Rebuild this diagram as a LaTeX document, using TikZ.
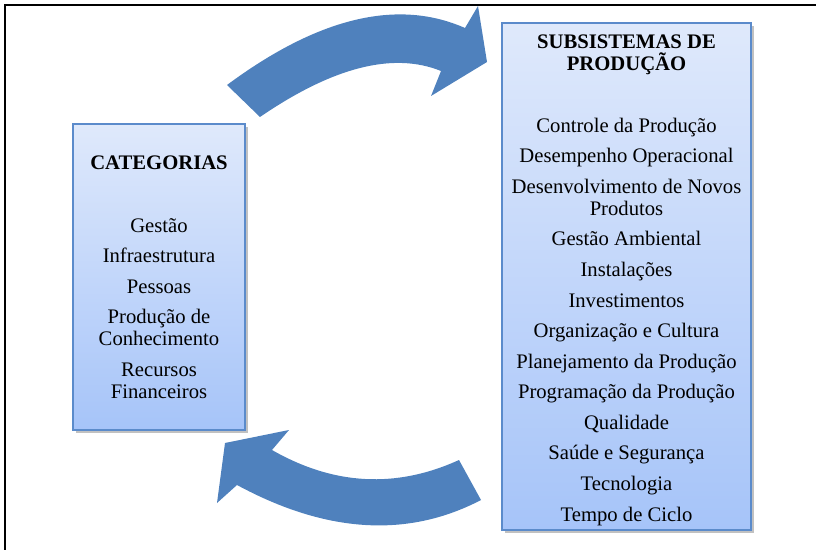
\documentclass[tikz,border=0pt]{standalone}
\usepackage{fontspec}
\setmainfont{Liberation Serif}
\usetikzlibrary{shadows}
\definecolor{arrowblue}{HTML}{4F81BD}
\definecolor{boxline}{HTML}{5B8BCB}
\definecolor{boxtop}{HTML}{DFE9FB}
\definecolor{boxbot}{HTML}{A6C4F9}

\begin{document}
\begin{tikzpicture}[x=0.025cm,y=-0.025cm,
  listbox/.style={draw=boxline,line width=1pt,inner sep=0pt,
    top color=boxtop,bottom color=boxbot,
    drop shadow={shadow xshift=2pt,shadow yshift=-2pt,opacity=0.35,fill=black!70}},
  boxtext/.style={align=center,inner sep=0pt,font=\fontsize{14.7pt}{15.65pt}\selectfont},
  headtext/.style={boxtext,font=\fontsize{14.7pt}{15.65pt}\selectfont\bfseries},
  bigarrow/.style={fill=arrowblue,draw=none}]
\useasboundingbox (0,0) rectangle (816,550);
\draw[line width=1.8pt] (5,550) -- (5,5) -- (816,5);

% Left: categorias
\node[listbox,minimum width=4.3cm,minimum height=7.65cm] (catbox) at (159,277) {};
\node[headtext,anchor=base] (cathead) at (159,170) {CATEGORIAS};
\node[boxtext,anchor=north] (catlist) at (159,218) {Gestão\\[6.1pt]
  Infraestrutura\\[6.1pt] Pessoas\\[6.1pt] Produção de\\ Conhecimento\\[6.1pt]
  Recursos\\ Financeiros};

% Right: subsistemas
\node[listbox,minimum width=6.225cm,minimum height=12.675cm] (subbox) at (626.5,276.5) {};
\node[headtext,anchor=north] (subhead) at (626.5,35) {SUBSISTEMAS DE\\ PRODUÇÃO};
\node[boxtext,anchor=north] (sublist) at (626.5,117.5) {Controle da Produção\\[6.1pt]
  Desempenho Operacional\\[6.1pt] Desenvolvimento de Novos\\ Produtos\\[6.1pt]
  Gestão Ambiental\\[6.1pt] Instalações\\[6.1pt] Investimentos\\[6.1pt]
  Organização e Cultura\\[6.1pt] Planejamento da Produção\\[6.1pt]
  Programação da Produção\\[6.1pt] Qualidade\\[6.1pt] Saúde e Segurança\\[6.1pt]
  Tecnologia\\[6.1pt] Tempo de Ciclo};

% Arrows between the boxes
\fill[bigarrow] (227,85) .. controls (318.3,17.3) and (397.7,-1.7) .. (465,28)
  -- (478,6) -- (487,62) -- (431,96) -- (441,71)
  .. controls (393.3,51.7) and (333,67) .. (260,117) -- cycle;
\fill[bigarrow] (481,500) .. controls (407.7,538.3) and (326.3,533.3) .. (237,485)
  -- (217,503) -- (225,443) -- (289,430) -- (272,450)
  .. controls (333.7,485.3) and (396,488.7) .. (459,460) -- cycle;
\end{tikzpicture}
\end{document}
